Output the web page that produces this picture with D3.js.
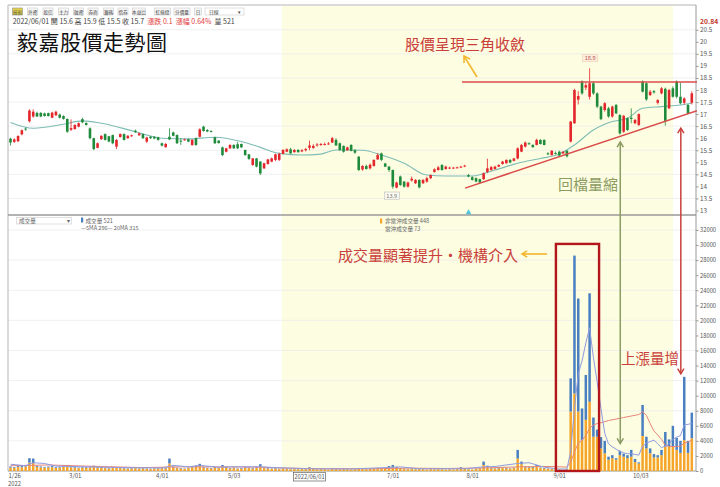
<!DOCTYPE html>
<html><head><meta charset="utf-8">
<script src="https://cdn.jsdelivr.net/npm/d3@7/dist/d3.min.js"></script>
<style>html,body{margin:0;padding:0;background:#fff;overflow:hidden}svg{display:block}</style>
</head><body>
<svg id="chart" width="720" height="487"></svg>
<script>
// ---------------- DATA ----------------
const opens = [15.98,15.85,15.87,16.16,16.40,16.70,16.90,17.05,17.05,17.03,
17.04,16.85,16.95,16.98,16.92,16.80,16.35,16.38,16.48,16.79,
16.63,16.41,16.00,15.60,15.96,16.17,16.08,16.13,15.65,16.05,
16.17,16.00,16.10,16.31,16.12,16.17,15.86,16.06,16.06,16.04,
15.79,15.63,16.06,16.24,16.13,15.90,15.93,15.96,15.72,16.00,
16.06,16.48,16.34,16.30,16.04,15.90,15.62,15.44,15.58,15.72,
15.75,15.76,15.51,15.33,14.89,15.16,15.03,14.75,14.93,15.03,
15.10,15.10,15.35,15.44,15.54,15.42,15.51,15.45,15.50,15.60,
15.60,15.70,15.72,15.74,15.76,15.82,15.93,15.79,15.68,15.50,
15.72,15.50,15.23,14.70,14.85,14.75,14.85,15.12,15.37,14.95,
14.82,14.68,13.95,14.41,14.20,13.99,14.25,14.13,14.27,14.13,
14.20,14.34,14.60,14.68,14.89,14.72,14.74,14.76,14.77,14.78,
14.83,14.47,14.38,14.34,14.30,14.30,14.60,14.68,14.72,14.82,
14.93,14.96,15.10,15.06,15.16,15.44,15.65,15.79,15.72,15.72,
15.93,15.93,15.37,15.30,15.39,15.44,15.37,15.48,15.86,16.62,
17.60,18.35,18.10,17.72,18.28,17.86,17.31,17.17,17.24,16.90,
17.38,16.96,16.27,16.83,16.85,16.62,16.55,18.35,18.28,17.79,
17.95,17.47,17.86,18.05,17.24,18.07,18.35,17.72,17.47,17.38,
17.47];
const highs = [16.02,16.00,16.12,16.36,16.45,17.20,17.20,17.10,17.08,17.06,
17.06,17.10,17.14,17.02,16.95,16.82,16.78,16.58,16.66,16.85,
16.66,16.45,16.02,15.82,16.12,16.20,16.10,16.15,15.96,16.20,
16.20,16.13,16.15,16.36,16.24,16.20,16.06,16.08,16.08,16.06,
15.82,15.80,16.41,16.27,16.16,16.00,15.98,15.98,15.96,16.03,
16.41,16.52,16.38,16.33,16.06,15.92,15.65,15.60,15.75,15.75,
15.85,15.78,15.53,15.35,15.18,15.18,15.05,14.98,15.14,15.20,
15.36,15.40,15.55,15.58,15.60,15.55,15.55,15.55,15.60,15.90,
15.75,15.80,15.80,15.82,15.84,16.05,16.00,15.82,15.70,15.65,
15.75,15.55,15.26,14.88,14.90,14.95,15.12,15.38,15.40,14.98,
14.85,14.70,14.20,14.45,14.22,14.20,14.41,14.30,14.30,14.30,
14.40,14.50,14.75,14.85,14.92,14.86,14.82,14.80,14.82,14.85,
14.90,14.52,14.42,14.38,14.32,14.58,15.15,14.85,14.86,14.92,
15.06,15.12,15.13,15.18,15.62,15.76,15.86,15.83,15.75,15.98,
15.96,15.95,15.42,15.50,15.45,15.48,15.46,15.50,16.72,18.05,
17.95,18.40,18.30,18.90,18.35,17.90,17.35,17.50,17.30,17.35,
17.42,17.00,16.96,16.86,17.24,16.80,17.03,18.40,18.30,18.00,
18.00,17.62,18.12,18.10,18.05,18.15,18.40,18.30,17.70,17.42,
17.95];
const lows = [15.70,15.80,15.85,16.12,16.30,16.65,16.85,16.88,16.87,16.90,
16.90,16.83,16.92,16.82,16.77,16.22,16.30,16.35,16.45,16.62,
16.52,15.95,15.50,15.58,15.93,15.90,15.83,15.75,15.55,16.02,
15.90,15.97,16.05,16.22,16.10,15.97,15.80,15.97,15.96,15.90,
15.66,15.60,15.92,16.08,15.76,15.72,15.90,15.83,15.68,15.68,
16.03,16.27,16.25,16.24,15.76,15.77,15.25,15.41,15.55,15.55,
15.55,15.60,15.27,15.10,14.85,14.79,14.47,14.72,14.90,15.00,
15.05,15.05,15.33,15.42,15.35,15.40,15.40,15.42,15.45,15.50,
15.55,15.65,15.68,15.70,15.72,15.80,15.68,15.48,15.40,15.48,
15.45,15.35,14.64,14.65,14.70,14.70,14.82,15.10,15.05,14.80,
14.60,13.90,13.92,14.02,13.95,13.95,14.20,14.10,13.92,14.10,
14.15,14.30,14.57,14.65,14.65,14.70,14.72,14.72,14.74,14.76,
14.80,14.38,14.24,14.17,14.13,14.27,14.55,14.65,14.70,14.80,
14.90,14.94,14.96,15.04,15.12,15.42,15.62,15.72,15.60,15.70,
15.74,15.70,15.30,15.28,15.32,15.25,15.33,15.20,15.82,16.60,
17.40,17.80,18.00,17.60,17.80,17.25,16.75,17.10,16.85,16.85,
17.00,16.15,16.22,16.30,16.62,16.58,16.50,17.90,17.55,17.75,
17.85,17.40,17.82,16.52,17.20,17.68,17.65,17.40,17.40,17.00,
17.40];
const closes = [15.82,15.95,16.09,16.33,16.36,17.15,17.10,16.90,16.90,16.92,
16.92,17.06,17.10,16.85,16.80,16.27,16.42,16.55,16.62,16.66,
16.55,16.00,15.55,15.79,16.10,15.93,15.86,15.79,15.93,16.17,
15.93,16.10,16.12,16.25,16.20,16.00,16.03,16.00,15.99,15.93,
15.69,15.76,15.95,16.10,15.79,15.86,15.95,15.86,15.93,15.72,
16.37,16.30,16.28,16.27,15.79,15.80,15.30,15.58,15.72,15.58,
15.58,15.62,15.30,15.14,15.16,14.82,14.54,14.96,15.12,15.16,
15.33,15.35,15.51,15.54,15.37,15.51,15.42,15.50,15.55,15.70,
15.68,15.74,15.76,15.76,15.78,16.00,15.70,15.51,15.44,15.62,
15.48,15.40,14.68,14.85,14.72,14.90,15.10,15.30,15.10,14.82,
14.68,13.99,14.16,14.06,13.99,14.16,14.32,14.27,13.96,14.27,
14.34,14.47,14.71,14.79,14.68,14.82,14.78,14.78,14.79,14.82,
14.86,14.41,14.27,14.20,14.16,14.54,14.75,14.80,14.82,14.89,
15.03,15.10,14.99,15.16,15.58,15.72,15.82,15.75,15.63,15.93,
15.76,15.72,15.33,15.48,15.35,15.28,15.44,15.25,16.69,18.00,
17.75,17.86,18.20,18.28,17.86,17.31,16.79,17.45,16.90,17.31,
17.03,16.20,16.93,16.34,16.80,16.76,17.00,17.93,17.61,17.93,
17.90,17.58,18.07,16.72,18.00,17.72,17.72,17.45,17.65,17.03,
17.86];
// total volume (blue top = day-trade, orange = non day-trade)
const volTotal = [600,500,700,650,800,1700,1650,700,600,550,
600,650,500,550,800,750,600,500,450,550,
500,600,700,550,500,450,400,550,500,450,
400,350,400,450,350,400,350,300,350,400,
450,400,1650,600,450,400,350,450,600,700,
950,500,450,400,500,450,800,500,400,450,
350,400,500,450,400,500,900,450,400,350,
400,300,350,300,250,300,250,300,250,521,
350,250,300,250,200,350,300,250,300,250,
200,250,350,300,250,300,350,400,350,400,
650,800,550,400,300,250,300,250,300,250,
200,300,250,300,250,200,250,200,250,500,
300,250,200,300,350,1250,700,400,350,400,
450,400,350,450,2800,1250,600,550,500,800,
450,400,350,300,250,200,150,250,12300,28600,
22900,8300,12750,23600,7100,5500,4500,4000,1900,2100,
1700,2700,2300,2100,2800,1600,1150,8770,4550,3000,
2250,2100,2800,5180,4200,6000,4400,4000,12500,4000,
7750];
const volNonDayTrade = [450,400,550,500,600,1100,1050,550,480,450,
480,500,400,450,600,600,480,400,380,450,
400,480,550,450,400,380,330,450,400,380,
330,300,330,380,300,330,300,250,300,330,
380,330,1000,480,380,330,300,380,480,550,
650,400,380,330,400,380,600,400,330,380,
300,330,400,380,330,400,650,380,330,300,
330,250,300,250,220,250,220,250,220,448,
300,220,250,220,180,300,250,220,250,220,
180,220,300,250,220,250,300,330,300,330,
500,550,450,330,250,220,250,220,250,220,
180,250,220,250,220,180,220,180,220,400,
250,220,180,250,300,800,550,330,300,330,
380,330,300,380,1650,900,480,450,400,600,
380,330,300,250,220,180,130,220,7900,10300,
7900,4100,6800,9200,4550,4550,3000,2350,1500,1700,
1500,2100,1900,1700,1900,1200,1000,4650,3000,2350,
1800,1800,2100,3250,3250,3250,2800,2400,4100,2400,
4350];
// moving averages: [day index, value]
const priceMA = [[0,16.65],[6,16.41],[14,16.58],[19,16.72],[24,16.62],[33,16.27],[40,16.0],[47,15.97],[54,16.04],[61,15.86],[66,15.62],[71,15.37],[77,15.3],[82,15.34],[86,15.51],[93,15.5],[98,15.3],[104,14.96],[110,14.47],[115,14.43],[122,14.43],[128,14.68],[134,14.96],[140,15.16],[145,15.34],[149,15.72],[154,16.34],[159,16.69],[163,16.83],[167,17.24],[172,17.31],[177,17.38],[180,17.45]];
const vol5MA = [[0,900],[4,700],[6,1100],[9,1000],[12,650],[20,550],[30,450],[40,400],[43,750],[47,550],[50,750],[55,500],[58,550],[66,560],[70,450],[79,296],[90,270],[100,470],[103,550],[108,300],[120,300],[125,550],[128,600],[134,1000],[137,1100],[141,500],[145,260],[147,250],[148,2600],[149,8300],[150,12900],[151,14600],[152,17000],[153,19000],[154,15100],[155,11800],[156,8300],[157,5000],[158,3600],[159,3200],[160,2900],[161,2600],[162,2400],[163,2300],[164,2300],[165,2200],[166,2100],[167,3300],[168,3700],[169,3900],[170,4100],[171,3600],[172,3100],[173,3300],[174,3600],[175,4200],[176,4500],[177,4700],[178,6100],[179,6200],[180,6300]];
const vol20MA = [[0,700],[10,800],[20,650],[35,450],[45,550],[55,550],[65,520],[72,400],[79,315],[95,290],[105,380],[115,330],[125,400],[135,560],[142,600],[147,520],[148,1150],[149,2550],[150,3700],[151,4100],[152,4700],[153,5700],[154,6100],[155,6300],[156,6400],[158,6700],[160,6900],[162,7100],[164,7300],[166,7500],[167,7850],[168,7400],[169,6300],[170,5300],[171,4800],[172,4200],[173,3400],[174,3250],[175,3250],[176,3250],[177,3300],[178,3700],[179,3850],[180,4100]];
// axis ticks
const priceTicks = [13,13.5,14,14.5,15,15.5,16,16.5,17,17.5,18,18.5,19,19.5,20,20.5];
const volTicks = [0,2000,4000,6000,8000,10000,12000,14000,16000,18000,20000,22000,24000,26000,28000,30000,32000];
const dateTickIdx = [0,16,39,58,100,121,144,165];
const dateTickLabels = ["1/26","3/01","4/01","5/03","7/01","8/01","9/01","10/03"];
const selectedIdx = 79, selectedLabel = "2022/06/01";
// trend lines and annotation anchors (day index, price / volume)
const resistanceLine = [[119.3,18.33],[181.4,18.33]];
const supportLine = [[120.1,13.93],[181.4,17.14]];
const highlightRange = [71.7,175.0];
const peakLabel = {i:153, v:18.9}, troughLabel = {i:101, v:13.9};

// ---------------- CHART ----------------
const FONT = "'Noto Sans CJK TC','Noto Sans',sans-serif";
const svg = d3.select('#chart').attr('font-family', FONT);
const N = closes.length;
const plotL = 8, plotR = 696;
const x = d3.scaleLinear().domain([0, N-1]).range([10.5, 691.8]);
const yP = d3.scaleLinear().domain([13, 20.5]).range([210.5, 29.75]);
const yV = d3.scaleLinear().domain([0, 32000]).range([471, 230]);

svg.append('rect').attr('width',720).attr('height',487).attr('fill','#fff');
svg.append('rect').attr('x',x(highlightRange[0])).attr('y',6)
  .attr('width',x(highlightRange[1])-x(highlightRange[0])).attr('height',466).attr('fill','#fdfde1');

const defs = svg.append('defs');
defs.append('clipPath').attr('id','cp').append('rect').attr('x',plotL).attr('y',6).attr('width',plotR-plotL+1).attr('height',208);
defs.append('clipPath').attr('id','cv').append('rect').attr('x',plotL).attr('y',216).attr('width',plotR-plotL).attr('height',255);

// grid
const grid = svg.append('g').attr('stroke','#ececec').attr('stroke-width',0.8);
grid.selectAll('.gp').data(priceTicks.filter(d=>d%1!==0)).join('line')
  .attr('x1',plotL).attr('x2',plotR).attr('y1',d=>yP(d)).attr('y2',d=>yP(d));
grid.selectAll('.gv').data(volTicks.filter(d=>d>0 && d%4000===0)).join('line')
  .attr('x1',plotL).attr('x2',plotR).attr('y1',d=>yV(d)).attr('y2',d=>yV(d));

// frame
const frame = svg.append('g').attr('stroke','#b5b5b5').attr('fill','none');
frame.append('line').attr('x1',plotL).attr('x2',plotR).attr('y1',5).attr('y2',5);
frame.append('line').attr('x1',plotL).attr('x2',plotL).attr('y1',5).attr('y2',471);
frame.append('line').attr('x1',plotR).attr('x2',plotR).attr('y1',5).attr('y2',471).attr('stroke','#9a9a9a');
frame.append('line').attr('x1',plotL).attr('x2',plotR).attr('y1',215).attr('y2',215).attr('stroke','#9a9a9a').attr('stroke-width',1.6);
frame.append('line').attr('x1',plotL).attr('x2',plotR).attr('y1',471).attr('y2',471).attr('stroke','#9a9a9a');

// toolbar
const toolbarBtns = [["技術",12.5,10],["外資",27.5,10],["投信",43,10],["主力",58.5,10],["融資",73.5,10],["券商",88,10],["籌碼",103.5,10],["借券",118,10],["本益比",132.5,13],["紅綠燈",154.5,16],["分價量",174,16],["日",194.5,7]];
const tb = svg.append('g');
toolbarBtns.forEach((b,k)=>{
  tb.append('rect').attr('x',b[1]).attr('y',8).attr('width',b[2]).attr('height',7)
    .attr('fill',k===0?'#e9d44a':'#f8f8f8').attr('stroke',k===0?'#8a8a8a':'#c9c9c9').attr('stroke-width',0.6);
  tb.append('text').attr('x',b[1]+b[2]/2).attr('y',13.6).attr('text-anchor','middle')
    .attr('font-size',4.6).attr('fill','#444').text(b[0]);
});
tb.append('rect').attr('x',205).attr('y',8).attr('width',39).attr('height',7).attr('fill','#fff').attr('stroke','#c9c9c9').attr('stroke-width',0.6);
tb.append('text').attr('x',209).attr('y',13.6).attr('font-size',4.8).attr('fill','#444').text('日線');
tb.append('text').attr('x',238).attr('y',13.6).attr('font-size',4.8).attr('fill','#444').text('▾');

// info line (one text, coloured parts)
const infoParts = [["2022/06/01 開 15.6 高 15.9 低 15.5 收 15.7  ",'#444'],["漲跌 0.1  漲幅 0.64%",'#e23b3b'],["  量 521",'#444']];
const infoT = svg.append('text').attr('x',12.7).attr('y',23.5).attr('font-size',7).attr('xml:space','preserve').style('white-space','pre');
infoParts.forEach(p=>infoT.append('tspan').attr('fill',p[1]).text(p[0]));

// title
svg.append('text').attr('x',17).attr('y',50).attr('font-size',21).attr('fill','#111')
  .attr('letter-spacing',0.5).text('毅嘉股價走勢圖');

// price MA
const lineP = d3.line().x(d=>x(d[0])).y(d=>yP(d[1]));
const lineV = d3.line().x(d=>x(d[0])).y(d=>yV(d[1]));
const gp = svg.append('g').attr('clip-path','url(#cp)');
gp.append('path').attr('d',lineP.curve(d3.curveMonotoneX)(priceMA)).attr('fill','none').attr('stroke','#7fbcb6').attr('stroke-width',1.1);

// candles
const UP='#e3262c', DN='#1f8a3c';
const candles = d3.range(N).map(i=>({i,o:opens[i],h:highs[i],l:lows[i],c:closes[i]}));
const cg = gp.append('g');
cg.selectAll('line.w').data(candles).join('line')
  .attr('x1',d=>x(d.i)).attr('x2',d=>x(d.i)).attr('y1',d=>yP(d.h)).attr('y2',d=>yP(d.l))
  .attr('stroke',d=>d.c>=d.o?UP:DN).attr('stroke-width',0.8);
cg.selectAll('rect').data(candles).join('rect')
  .attr('x',d=>x(d.i)-1.3).attr('width',2.6)
  .attr('y',d=>yP(Math.max(d.o,d.c)))
  .attr('height',d=>Math.max(0.9,Math.abs(yP(d.o)-yP(d.c))))
  .attr('fill',d=>d.c>=d.o?UP:DN);

// trend lines
const tl = svg.append('g').attr('clip-path','url(#cp)');
tl.append('path').attr('d',d3.line().x(d=>x(d[0])).y(d=>yP(d[1]))(resistanceLine)).attr('stroke','#d94b48').attr('stroke-width',1.5).attr('fill','none');
tl.append('path').attr('d',d3.line().x(d=>x(d[0])).y(d=>yP(d[1]))(supportLine)).attr('stroke','#d94b48').attr('stroke-width',1.5).attr('fill','none');

// peak/trough labels
function boxLabel(cx, cy, txt, col, fill, stroke){
  const g = svg.append('g');
  g.append('rect').attr('x',cx-7.5).attr('y',cy-3.8).attr('width',15).attr('height',7.2).attr('fill',fill).attr('stroke',stroke).attr('stroke-width',0.6);
  g.append('text').attr('x',cx).attr('y',cy+2).attr('text-anchor','middle').attr('font-size',5.6).attr('fill',col).text(txt);
}
boxLabel(x(peakLabel.i)+0.5, yP(peakLabel.v)-10, String(peakLabel.v), '#c0504d', '#fbeedd', '#efcfb0');
boxLabel(x(troughLabel.i)-1, yP(troughLabel.v)+7, String(troughLabel.v), '#777', '#fbfbf2', '#bbb');

// selection marker
svg.append('path').attr('d',d3.symbol(d3.symbolTriangle,14)()).attr('transform',`translate(${x(121)},212.5)`).attr('fill','#4fc3d9');

// volume bars
const gv = svg.append('g').attr('clip-path','url(#cv)');
const vols = d3.range(N).map(i=>({i,t:volTotal[i],n:volNonDayTrade[i]}));
gv.selectAll('rect.o').data(vols).join('rect').attr('class','o')
  .attr('x',d=>x(d.i)-1.25).attr('width',2.5)
  .attr('y',d=>yV(d.n)).attr('height',d=>yV(0)-yV(d.n)).attr('fill','#f5a52a');
gv.selectAll('rect.b').data(vols).join('rect').attr('class','b')
  .attr('x',d=>x(d.i)-1.25).attr('width',2.5)
  .attr('y',d=>yV(d.t)).attr('height',d=>yV(d.n)-yV(d.t)).attr('fill','#4a7fc0');
gv.append('path').attr('d',lineV.curve(d3.curveLinear)(vol20MA)).attr('fill','none').attr('stroke','#e8857a').attr('stroke-width',1);
gv.append('path').attr('d',lineV.curve(d3.curveLinear)(vol5MA)).attr('fill','none').attr('stroke','#8f9be0').attr('stroke-width',1);

// axes
const pAxis = d3.axisRight(yP).tickValues(priceTicks).tickSize(2.5).tickFormat(d=>String(d));
svg.append('g').attr('transform',`translate(${plotR},0)`).call(pAxis)
  .call(g=>g.select('.domain').remove())
  .call(g=>g.selectAll('line').attr('stroke','#999'))
  .call(g=>g.selectAll('text').attr('x',4).attr('font-size',6.3).attr('fill','#555').attr('font-family',FONT));
svg.append('text').attr('x',plotR+4).attr('y',yP(20.84)+2.6).attr('font-size',6.8).attr('fill','#c0392b').attr('font-weight','bold').text('20.84');
const vAxis = d3.axisRight(yV).tickValues(volTicks).tickSize(2.5).tickFormat(d=>String(d));
svg.append('g').attr('transform',`translate(${plotR},0)`).call(vAxis)
  .call(g=>g.select('.domain').remove())
  .call(g=>g.selectAll('line').attr('stroke','#999'))
  .call(g=>g.selectAll('text').attr('x',4).attr('font-size',5.8).attr('fill','#555').attr('font-family',FONT));
const dAxis = d3.axisBottom(x).tickValues(dateTickIdx).tickSize(0).tickFormat((d,k)=>dateTickLabels[k]);
svg.append('g').attr('transform','translate(0,471)').call(dAxis)
  .call(g=>g.select('.domain').remove())
  .call(g=>g.selectAll('text').attr('text-anchor','start').attr('dx',-2.5).attr('y',2.5).attr('font-size',6).attr('fill','#555').attr('font-family',FONT));
svg.append('text').attr('x',x(0)-2.5).attr('y',485.5).attr('font-size',5.8).attr('fill','#555').text('2022');
// selected date box
svg.append('rect').attr('x',x(selectedIdx)-16).attr('y',472.5).attr('width',32).attr('height',8.5).attr('fill','#fff').attr('stroke','#666').attr('stroke-width',0.7);
svg.append('text').attr('x',x(selectedIdx)).attr('y',479.2).attr('text-anchor','middle').attr('font-size',5.8).attr('fill','#555').text(selectedLabel);

// volume legend
const lg = svg.append('g').attr('font-size',5.6).attr('fill','#666');
lg.append('rect').attr('x',16.5).attr('y',217.5).attr('width',55).attr('height',6.5).attr('fill','#fff').attr('stroke','#ccc').attr('stroke-width',0.6);
lg.append('text').attr('x',19).attr('y',222.8).text('成交量');
lg.append('text').attr('x',66.5).attr('y',222.8).text('▾');
lg.append('rect').attr('x',81).attr('y',217.5).attr('width',2.2).attr('height',5).attr('fill','#4a7fc0');
lg.append('text').attr('x',85.5).attr('y',222.5).text('成交量 521');
lg.append('text').attr('x',81).attr('y',230).text('—5MA 296—  20MA 315');
lg.append('rect').attr('x',380).attr('y',218.5).attr('width',2.2).attr('height',5).attr('fill','#f5a52a');
lg.append('text').attr('x',385).attr('y',223.2).text('非當沖成交量 448');
lg.append('text').attr('x',385).attr('y',231).text('當沖成交量 73');

// red box around volume surge
svg.append('rect').attr('x',x(144.1)).attr('y',yV(30150)).attr('width',x(155.5)-x(144.1)).attr('height',yV(0)-yV(30150))
  .attr('fill','none').attr('stroke','#b3161b').attr('stroke-width',2.4);

// arrows
function head(g,tx,ty,fx,fy,color,len,w){
  const a=Math.atan2(ty-fy,tx-fx), s=0.55;
  g.append('path').attr('d',`M${tx-len*Math.cos(a-s)},${ty-len*Math.sin(a-s)}L${tx},${ty}L${tx-len*Math.cos(a+s)},${ty-len*Math.sin(a+s)}`)
    .attr('fill','none').attr('stroke',color).attr('stroke-width',w);
}
function arrow(x1,y1,x2,y2,color,w,both,len){
  const g=svg.append('g');
  g.append('line').attr('x1',x1).attr('y1',y1).attr('x2',x2).attr('y2',y2).attr('stroke',color).attr('stroke-width',w);
  head(g,x2,y2,x1,y1,color,len,w);
  if(both) head(g,x1,y1,x2,y2,color,len,w);
}
const GOLD='#f2b630', OLIVE='#8c9c63', RED='#c9403a';
arrow(477,77,464,56,GOLD,1.6,false,7);
arrow(547,254,522,254,GOLD,1.6,false,6);
arrow(x(161.1),yP(15.84),x(161.1),yV(3650),OLIVE,1.5,true,6);
arrow(x(177.1),yP(16.42),x(177.1),yV(12900),RED,1.5,true,6);

// annotation texts
svg.append('text').attr('x',405).attr('y',50).attr('font-size',15).attr('fill',RED).text('股價呈現三角收斂');
svg.append('text').attr('x',558).attr('y',190).attr('font-size',15).attr('fill',OLIVE).text('回檔量縮');
svg.append('text').attr('x',338).attr('y',261).attr('font-size',15).attr('fill',RED).text('成交量顯著提升・機構介入');
svg.append('text').attr('x',621).attr('y',364).attr('font-size',14.5).attr('fill',RED).text('上漲量增');
</script>
</body></html>
